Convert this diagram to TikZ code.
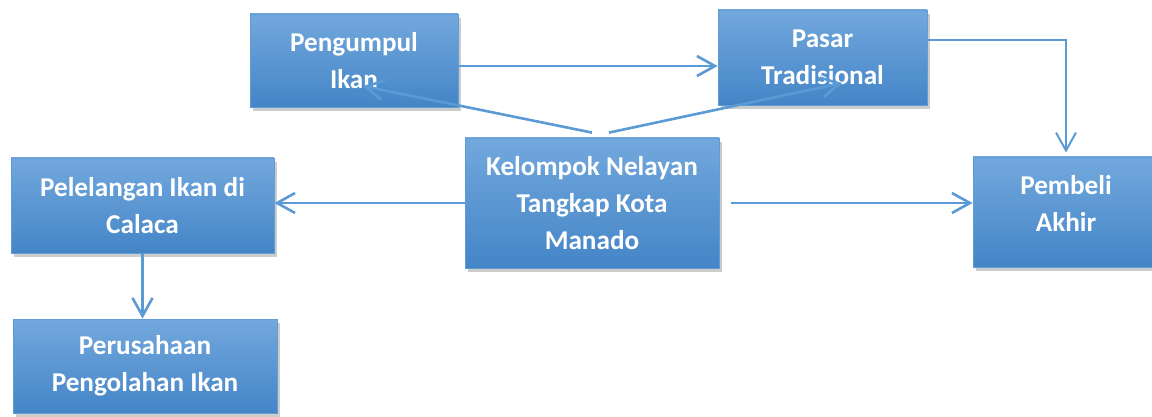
\documentclass[tikz,border=0pt]{standalone}
\usepackage{fontspec}
\setmainfont{Carlito}
\usetikzlibrary{arrows.meta,positioning,calc,shadows}
\definecolor{boxtop}{RGB}{114,168,221}
\definecolor{boxmid}{RGB}{84,152,217}
\definecolor{boxbottom}{RGB}{68,133,199}
\definecolor{boxedge}{RGB}{96,156,214}
\definecolor{linkblue}{RGB}{91,155,213}

\tikzset{
  boxtext/.style={text=white, font=\bfseries\fontsize{13.6}{18.6}\selectfont, align=center},
  box/.style={rectangle, draw=boxedge, line width=0.4pt, top color=boxtop, middle color=boxmid, bottom color=boxbottom,
    drop shadow={shadow xshift=1.5pt, shadow yshift=-2pt, opacity=0.4}, boxtext, inner sep=0pt},
  link/.style={draw=linkblue, line width=1.3pt, -{Straight Barb[length=9pt,width=10pt]}}
}

\begin{document}
\begin{tikzpicture}[x=0.5pt,y=-0.5pt]
  \useasboundingbox (0,0) rectangle (1152,417);

  \node[box,minimum width=104pt,minimum height=46.5pt] (pengumpul) at (354,60.5) {Pengumpul\\Ikan};
  \node[box,minimum width=104.5pt,minimum height=47.5pt] (pasar) at (822.5,57.5) {Pasar\\Tradisional};
  \node[box,minimum width=127pt,minimum height=65pt] (kelompok) at (592,203) {Kelompok Nelayan\\Tangkap Kota\\Manado};
  \node[box,minimum width=131.5pt,minimum height=47.5pt] (pelelangan) at (142.5,205.5) {Pelelangan Ikan di\\Calaca};
  \node[box,minimum width=132pt,minimum height=47pt] (perusahaan) at (145,366) {Perusahaan\\Pengolahan Ikan};
  \node[box,minimum width=93pt,minimum height=55pt] (pembeli) at (1066,212) {};
  \node[boxtext] (pembelilabel) at ($(pembeli.center)+(0,-8.5)$) {Pembeli\\Akhir};

  \draw[link] ([yshift=-2.75pt]pengumpul.east -| pengumpul.east) -- ([yshift=-2.75pt]pengumpul.east -| pasar.west);
  \draw[link] ([yshift=2.5pt]kelompok.north) -- ($(pengumpul.center)+(9,25.5)$);
  \draw[link] ([xshift=8.5pt,yshift=2.5pt]kelompok.north) -- ($(pasar.center)+(19.5,25.5)$);
  \draw[link,line width=1pt] ([yshift=8.75pt]pasar.east) -| ([yshift=2pt]pembeli.north);
  \draw[link] (kelompok.west) -- (kelompok.west -| pelelangan.east);
  \draw[link] ([xshift=6pt]kelompok.east) -- (kelompok.east -| pembeli.west);
  \draw[link] (pelelangan.south) -- (pelelangan.south |- perusahaan.north);

\end{tikzpicture}
\end{document}
